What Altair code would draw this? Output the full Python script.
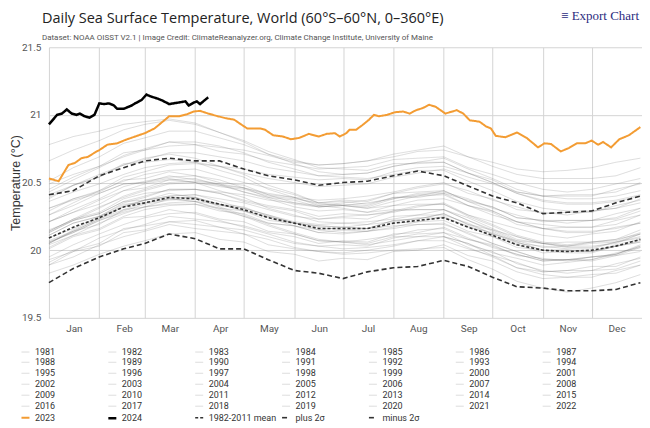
import altair as alt
import pandas as pd

# ---------------- values ----------------
MONTHS = ["Jan", "Feb", "Mar", "Apr", "May", "Jun", "Jul", "Aug", "Sep", "Oct", "Nov", "Dec"]
MONTH_START = [0, 31, 59, 90, 120, 151, 181, 212, 243, 273, 304, 334, 365]
Y_TICKS = [19.5, 20, 20.5, 21, 21.5]

DAYS = [0, 15, 31, 46, 59, 74, 90, 105, 120, 135, 151, 166, 181, 196, 212, 227, 243, 258, 273, 288, 304, 319, 334, 349, 364]
DAYS_1981 = [243, 258, 273, 288, 304, 319, 334, 349, 364]

y1981 = [20.10, 20.05, 19.96, 19.91, 19.84, 19.85, 19.88, 19.88, 19.95]
y1982 = [19.89, 19.95, 20.04, 20.10, 20.14, 20.19, 20.16, 20.14, 20.12, 20.04, 20.01, 19.99, 19.98, 20.00, 20.03, 20.07, 20.10, 20.05, 19.98, 19.94, 19.89, 19.91, 19.93, 19.97, 20.03]
y1983 = [20.05, 20.15, 20.24, 20.33, 20.37, 20.39, 20.39, 20.32, 20.26, 20.19, 20.13, 20.08, 20.06, 20.04, 20.07, 20.10, 20.10, 20.02, 19.95, 19.87, 19.82, 19.80, 19.82, 19.83, 19.89]
y1984 = [19.89, 19.99, 20.03, 20.13, 20.15, 20.21, 20.19, 20.17, 20.12, 20.08, 20.02, 19.99, 19.97, 19.98, 20.00, 20.01, 20.02, 19.93, 19.86, 19.77, 19.72, 19.69, 19.72, 19.76, 19.82]
y1985 = [19.83, 19.89, 19.97, 20.03, 20.07, 20.12, 20.13, 20.08, 20.06, 19.99, 19.97, 19.92, 19.94, 19.93, 19.99, 20.00, 20.04, 19.96, 19.92, 19.84, 19.79, 19.80, 19.80, 19.85, 19.89]
y1986 = [19.91, 20.00, 20.05, 20.16, 20.18, 20.21, 20.22, 20.17, 20.15, 20.10, 20.05, 20.03, 20.04, 20.03, 20.09, 20.12, 20.13, 20.08, 20.03, 19.97, 19.92, 19.93, 19.95, 19.97, 20.04]
y1987 = [20.05, 20.14, 20.23, 20.32, 20.37, 20.40, 20.41, 20.38, 20.35, 20.30, 20.25, 20.23, 20.24, 20.23, 20.29, 20.30, 20.30, 20.24, 20.16, 20.08, 20.05, 20.02, 20.02, 20.06, 20.09]
y1988 = [20.11, 20.20, 20.25, 20.34, 20.35, 20.38, 20.36, 20.30, 20.25, 20.18, 20.12, 20.07, 20.06, 20.05, 20.10, 20.10, 20.13, 20.04, 19.99, 19.90, 19.85, 19.83, 19.85, 19.86, 19.92]
y1989 = [19.93, 19.99, 20.09, 20.15, 20.19, 20.25, 20.23, 20.21, 20.18, 20.13, 20.10, 20.05, 20.07, 20.06, 20.12, 20.13, 20.17, 20.09, 20.02, 19.97, 19.92, 19.93, 19.93, 19.98, 20.02]
y1990 = [20.05, 20.14, 20.19, 20.30, 20.32, 20.38, 20.36, 20.34, 20.29, 20.25, 20.20, 20.18, 20.17, 20.19, 20.21, 20.24, 20.24, 20.18, 20.10, 20.04, 19.98, 19.99, 19.99, 20.04, 20.08]
y1991 = [20.09, 20.16, 20.25, 20.32, 20.37, 20.40, 20.41, 20.36, 20.31, 20.26, 20.20, 20.17, 20.15, 20.16, 20.18, 20.19, 20.20, 20.12, 20.05, 19.99, 19.93, 19.93, 19.92, 19.96, 19.99]
y1992 = [20.01, 20.10, 20.15, 20.24, 20.25, 20.30, 20.27, 20.22, 20.17, 20.12, 20.06, 20.03, 20.01, 20.02, 20.04, 20.07, 20.07, 20.01, 19.96, 19.87, 19.84, 19.85, 19.85, 19.90, 19.94]
y1993 = [19.95, 20.04, 20.12, 20.19, 20.24, 20.27, 20.28, 20.23, 20.21, 20.14, 20.12, 20.07, 20.06, 20.08, 20.11, 20.15, 20.16, 20.08, 20.04, 19.96, 19.94, 19.92, 19.95, 19.97, 20.03]
y1994 = [20.04, 20.11, 20.20, 20.27, 20.32, 20.35, 20.36, 20.31, 20.29, 20.22, 20.20, 20.15, 20.17, 20.16, 20.22, 20.23, 20.27, 20.19, 20.15, 20.07, 20.05, 20.03, 20.06, 20.08, 20.12]
y1995 = [20.13, 20.22, 20.27, 20.36, 20.37, 20.42, 20.39, 20.34, 20.29, 20.24, 20.18, 20.15, 20.13, 20.14, 20.16, 20.19, 20.19, 20.13, 20.05, 19.99, 19.93, 19.93, 19.95, 19.96, 20.02]
y1996 = [20.02, 20.11, 20.16, 20.25, 20.30, 20.33, 20.34, 20.29, 20.27, 20.20, 20.18, 20.13, 20.15, 20.14, 20.20, 20.21, 20.25, 20.17, 20.13, 20.05, 20.03, 20.01, 20.01, 20.06, 20.10]
y1997 = [20.11, 20.20, 20.25, 20.35, 20.39, 20.45, 20.45, 20.43, 20.41, 20.37, 20.35, 20.33, 20.35, 20.37, 20.42, 20.46, 20.49, 20.44, 20.37, 20.32, 20.27, 20.28, 20.28, 20.33, 20.37]
y1998 = [20.38, 20.48, 20.54, 20.64, 20.65, 20.67, 20.65, 20.59, 20.54, 20.45, 20.39, 20.33, 20.31, 20.28, 20.30, 20.30, 20.30, 20.22, 20.14, 20.06, 20.00, 20.00, 19.99, 20.03, 20.06]
y1999 = [20.06, 20.13, 20.22, 20.28, 20.32, 20.34, 20.34, 20.31, 20.25, 20.20, 20.18, 20.13, 20.12, 20.14, 20.17, 20.21, 20.22, 20.14, 20.10, 20.02, 20.00, 19.98, 19.98, 20.03, 20.07]
y2000 = [20.07, 20.14, 20.23, 20.30, 20.35, 20.38, 20.39, 20.34, 20.32, 20.25, 20.20, 20.18, 20.17, 20.16, 20.22, 20.23, 20.27, 20.19, 20.12, 20.07, 20.02, 20.03, 20.03, 20.05, 20.12]
y2001 = [20.14, 20.23, 20.28, 20.38, 20.42, 20.44, 20.45, 20.42, 20.36, 20.32, 20.29, 20.23, 20.25, 20.26, 20.28, 20.32, 20.35, 20.26, 20.21, 20.16, 20.11, 20.09, 20.12, 20.14, 20.21]
y2002 = [20.21, 20.28, 20.37, 20.44, 20.49, 20.52, 20.53, 20.48, 20.46, 20.39, 20.37, 20.32, 20.34, 20.33, 20.39, 20.40, 20.44, 20.36, 20.32, 20.24, 20.22, 20.20, 20.22, 20.23, 20.29]
y2003 = [20.29, 20.38, 20.43, 20.52, 20.53, 20.58, 20.55, 20.52, 20.46, 20.41, 20.35, 20.32, 20.33, 20.31, 20.36, 20.40, 20.41, 20.33, 20.29, 20.21, 20.19, 20.17, 20.17, 20.22, 20.26]
y2004 = [20.26, 20.33, 20.42, 20.49, 20.50, 20.55, 20.52, 20.49, 20.43, 20.38, 20.32, 20.29, 20.30, 20.28, 20.33, 20.37, 20.38, 20.33, 20.26, 20.21, 20.16, 20.17, 20.17, 20.19, 20.26]
y2005 = [20.26, 20.35, 20.44, 20.51, 20.56, 20.59, 20.60, 20.55, 20.50, 20.46, 20.41, 20.35, 20.36, 20.34, 20.39, 20.39, 20.42, 20.33, 20.28, 20.19, 20.16, 20.13, 20.13, 20.17, 20.20]
y2006 = [20.21, 20.28, 20.34, 20.44, 20.46, 20.52, 20.50, 20.48, 20.43, 20.39, 20.34, 20.32, 20.33, 20.32, 20.38, 20.41, 20.42, 20.37, 20.32, 20.24, 20.22, 20.22, 20.22, 20.27, 20.31]
y2007 = [20.31, 20.37, 20.42, 20.49, 20.50, 20.53, 20.50, 20.44, 20.39, 20.31, 20.26, 20.21, 20.20, 20.21, 20.23, 20.26, 20.26, 20.20, 20.12, 20.06, 20.00, 20.00, 19.99, 20.03, 20.06]
y2008 = [20.06, 20.13, 20.22, 20.29, 20.34, 20.37, 20.38, 20.33, 20.31, 20.26, 20.21, 20.19, 20.20, 20.19, 20.25, 20.26, 20.30, 20.22, 20.15, 20.10, 20.05, 20.06, 20.06, 20.08, 20.15]
y2009 = [20.15, 20.22, 20.31, 20.40, 20.45, 20.50, 20.51, 20.49, 20.46, 20.42, 20.39, 20.37, 20.38, 20.40, 20.43, 20.47, 20.50, 20.42, 20.38, 20.30, 20.28, 20.26, 20.29, 20.31, 20.38]
y2010 = [20.39, 20.48, 20.56, 20.63, 20.68, 20.71, 20.68, 20.62, 20.56, 20.48, 20.42, 20.35, 20.33, 20.31, 20.33, 20.34, 20.34, 20.26, 20.19, 20.11, 20.06, 20.04, 20.06, 20.07, 20.13]
y2011 = [20.13, 20.22, 20.27, 20.36, 20.40, 20.45, 20.45, 20.42, 20.37, 20.33, 20.30, 20.25, 20.27, 20.26, 20.29, 20.33, 20.34, 20.25, 20.18, 20.10, 20.05, 20.03, 20.05, 20.06, 20.12]
y2012 = [20.14, 20.23, 20.32, 20.39, 20.44, 20.49, 20.50, 20.47, 20.45, 20.40, 20.38, 20.35, 20.37, 20.36, 20.42, 20.43, 20.44, 20.36, 20.29, 20.21, 20.16, 20.14, 20.14, 20.16, 20.20]
y2013 = [20.21, 20.30, 20.38, 20.47, 20.51, 20.54, 20.55, 20.50, 20.48, 20.41, 20.39, 20.34, 20.33, 20.35, 20.38, 20.42, 20.43, 20.38, 20.31, 20.26, 20.21, 20.22, 20.22, 20.24, 20.31]
y2014 = [20.31, 20.38, 20.44, 20.54, 20.58, 20.63, 20.64, 20.62, 20.60, 20.56, 20.54, 20.52, 20.53, 20.52, 20.58, 20.61, 20.62, 20.57, 20.52, 20.43, 20.40, 20.41, 20.41, 20.43, 20.50]
y2015 = [20.49, 20.56, 20.62, 20.72, 20.74, 20.80, 20.78, 20.76, 20.74, 20.70, 20.65, 20.63, 20.64, 20.66, 20.69, 20.73, 20.74, 20.69, 20.65, 20.60, 20.58, 20.59, 20.61, 20.65, 20.68]
y2016 = [20.78, 20.84, 20.88, 20.93, 20.95, 20.97, 20.94, 20.87, 20.80, 20.71, 20.64, 20.58, 20.56, 20.57, 20.62, 20.65, 20.65, 20.57, 20.50, 20.42, 20.36, 20.34, 20.34, 20.36, 20.40]
y2017 = [20.43, 20.52, 20.61, 20.70, 20.75, 20.80, 20.80, 20.77, 20.72, 20.65, 20.60, 20.55, 20.54, 20.53, 20.56, 20.59, 20.59, 20.51, 20.44, 20.36, 20.31, 20.29, 20.29, 20.31, 20.35]
y2018 = [20.36, 20.43, 20.49, 20.56, 20.61, 20.64, 20.65, 20.62, 20.57, 20.53, 20.50, 20.47, 20.48, 20.49, 20.54, 20.57, 20.60, 20.54, 20.49, 20.43, 20.40, 20.40, 20.40, 20.45, 20.49]
y2019 = [20.51, 20.61, 20.69, 20.79, 20.83, 20.88, 20.88, 20.83, 20.78, 20.71, 20.66, 20.63, 20.64, 20.66, 20.71, 20.74, 20.77, 20.69, 20.62, 20.56, 20.53, 20.53, 20.53, 20.55, 20.61]
y2020 = [20.66, 20.74, 20.81, 20.89, 20.93, 20.96, 20.93, 20.87, 20.81, 20.73, 20.67, 20.61, 20.60, 20.59, 20.64, 20.64, 20.65, 20.57, 20.50, 20.42, 20.37, 20.35, 20.35, 20.37, 20.41]
y2021 = [20.41, 20.48, 20.54, 20.63, 20.67, 20.72, 20.72, 20.69, 20.66, 20.61, 20.58, 20.55, 20.56, 20.57, 20.62, 20.65, 20.68, 20.60, 20.53, 20.45, 20.40, 20.38, 20.38, 20.40, 20.44]
y2022 = [20.45, 20.54, 20.62, 20.69, 20.74, 20.77, 20.78, 20.73, 20.71, 20.66, 20.63, 20.60, 20.61, 20.62, 20.67, 20.68, 20.69, 20.61, 20.56, 20.50, 20.45, 20.43, 20.45, 20.49, 20.53]

mean_1982_2011 = [20.09, 20.17, 20.24, 20.32, 20.35, 20.39, 20.38, 20.34, 20.30, 20.24, 20.20, 20.16, 20.16, 20.16, 20.20, 20.22, 20.24, 20.17, 20.11, 20.04, 20.00, 19.99, 20.00, 20.03, 20.08]
plus_2sigma = [20.41, 20.44, 20.55, 20.61, 20.66, 20.68, 20.66, 20.66, 20.60, 20.55, 20.52, 20.48, 20.50, 20.51, 20.55, 20.585, 20.55, 20.475, 20.40, 20.35, 20.27, 20.28, 20.29, 20.35, 20.40]
minus_2sigma = [19.76, 19.865, 19.95, 20.01, 20.05, 20.12, 20.085, 20.01, 20.01, 19.93, 19.85, 19.83, 19.79, 19.84, 19.87, 19.88, 19.925, 19.88, 19.80, 19.73, 19.72, 19.70, 19.70, 19.71, 19.76]

days_2023 = [0, 6, 9, 12, 16, 20, 24, 28, 31, 36, 42, 47, 53, 59, 65, 70, 74, 80, 85, 89, 93, 98, 104, 109, 114, 117, 122, 130, 133, 138, 144, 149, 154, 160, 166, 171, 176, 179, 183, 185, 189, 193, 197, 200, 203, 208, 213, 218, 222, 226, 230, 234, 238, 244, 251, 255, 259, 265, 269, 272, 275, 281, 288, 294, 298, 301, 305, 309, 315, 320, 325, 330, 334, 338, 341, 346, 351, 357, 364]
temp_2023 = [20.53, 20.51, 20.57, 20.63, 20.645, 20.68, 20.69, 20.72, 20.74, 20.78, 20.79, 20.815, 20.84, 20.865, 20.90, 20.95, 20.99, 20.99, 21.005, 21.025, 21.03, 21.01, 20.99, 20.975, 20.965, 20.94, 20.90, 20.90, 20.89, 20.85, 20.84, 20.82, 20.83, 20.86, 20.84, 20.86, 20.865, 20.84, 20.865, 20.89, 20.89, 20.925, 20.965, 21.0, 20.99, 21.0, 21.02, 21.025, 21.01, 21.035, 21.05, 21.075, 21.06, 21.01, 21.035, 21.01, 20.96, 20.95, 20.915, 20.90, 20.845, 20.835, 20.87, 20.83, 20.79, 20.76, 20.79, 20.785, 20.73, 20.755, 20.79, 20.79, 20.81, 20.78, 20.80, 20.76, 20.82, 20.85, 20.91]

days_2024 = [0, 5, 8, 11, 14, 17, 19, 22, 25, 28, 31, 34, 37, 40, 42, 46, 49, 51, 53, 57, 60, 63, 67, 70, 74, 79, 84, 86, 89, 91, 93, 95, 98]
temp_2024 = [20.93, 21.0, 21.01, 21.04, 21.01, 21.0, 21.01, 20.99, 20.98, 21.0, 21.085, 21.08, 21.085, 21.07, 21.045, 21.045, 21.06, 21.07, 21.085, 21.11, 21.15, 21.135, 21.12, 21.105, 21.08, 21.09, 21.1, 21.07, 21.09, 21.1, 21.08, 21.1, 21.13]

GRAY_YEARS = [y1981, y1982, y1983, y1984, y1985, y1986, y1987, y1988, y1989, y1990,
              y1991, y1992, y1993, y1994, y1995, y1996, y1997, y1998, y1999, y2000,
              y2001, y2002, y2003, y2004, y2005, y2006, y2007, y2008, y2009, y2010,
              y2011, y2012, y2013, y2014, y2015, y2016, y2017, y2018, y2019, y2020,
              y2021, y2022]
GRAY_LABELS = [str(y) for y in range(1981, 2023)]
STAT_LABELS = ["1982-2011 mean", "plus 2σ", "minus 2σ"]

# ---------------- tables ----------------
rows = []
for label, vals in zip(GRAY_LABELS, GRAY_YEARS):
    dd = DAYS_1981 if label == "1981" else DAYS
    for d, v in zip(dd, vals):
        rows.append({"series": label, "day": d, "temp": v})
gray_df = pd.DataFrame(rows)

rows = []
for label, vals in zip(STAT_LABELS, [mean_1982_2011, plus_2sigma, minus_2sigma]):
    for d, v in zip(DAYS, vals):
        rows.append({"series": label, "day": d, "temp": v})
stat_df = pd.DataFrame(rows)

df23 = pd.DataFrame({"series": "2023", "day": days_2023, "temp": temp_2023})
df24 = pd.DataFrame({"series": "2024", "day": days_2024, "temp": temp_2024})

# ---------------- styling ----------------
SMALL = "Roboto"
GRAY = "rgba(110,110,110,0.24)"
ORANGE = "#f39c33"

domain = GRAY_LABELS + ["2023", "2024"] + STAT_LABELS
color_range = [GRAY] * len(GRAY_LABELS) + [ORANGE, "#000000", "#333333", "#333333", "#333333"]
dash_range = [[1, 0]] * (len(GRAY_LABELS) + 2) + [[3, 2], [5, 3], [5, 3]]
width_range = [1] * len(GRAY_LABELS) + [2, 2.5, 1.6, 1.6, 1.6]

month_expr = "[" + ",".join("'%s'" % m for m in MONTHS) + ",''][indexof([" + ",".join(str(v) for v in MONTH_START) + "], datum.value)]"

x_enc = alt.X(
    "day:Q",
    scale=alt.Scale(domain=[0, 365], nice=False, zero=False),
    axis=alt.Axis(values=MONTH_START, labelExpr=month_expr, labelOffset=25, labelFlush=False,
                  grid=True, gridColor="#d4d4d4", ticks=False, domain=False, title=None,
                  labelFont=SMALL, labelFontSize=10, labelColor="#555555", labelPadding=6),
)
y_enc = alt.Y(
    "temp:Q",
    scale=alt.Scale(domain=[19.5, 21.5], nice=False, zero=False),
    axis=alt.Axis(values=Y_TICKS, format="~g", grid=True, gridColor="#d4d4d4", ticks=False,
                  domain=False, title="Temperature (°C)", titleFont="Liberation Sans",
                  titleFontSize=12.5, titleFontWeight="normal", titleColor="#333333", titlePadding=-1,
                  labelFont=SMALL, labelFontSize=10, labelColor="#555555", labelPadding=8),
)
color_enc = alt.Color(
    "series:N", title=None,
    scale=alt.Scale(domain=domain, range=color_range),
    legend=alt.Legend(orient="none", legendX=-29, legendY=300, columns=7, direction="horizontal",
                      symbolType="stroke", symbolSize=64, gridAlign="all", columnPadding=0,
                      rowPadding=0, symbolLimit=100, labelFont=SMALL, labelFontSize=9,
                      labelColor="#333333", labelOffset=4, labelLimit=200),
)
dash_enc = alt.StrokeDash("series:N", title=None, scale=alt.Scale(domain=domain, range=dash_range))
width_enc = alt.StrokeWidth("series:N", title=None, scale=alt.Scale(type="ordinal", domain=domain, range=width_range))


def line_layer(df):
    return alt.Chart(df).mark_line().encode(
        x=x_enc, y=y_enc, color=color_enc, strokeDash=dash_enc, strokeWidth=width_enc,
        detail="series:N",
    )


export_df = pd.DataFrame({"t": ["≡ Export Chart"]})
export_txt = alt.Chart(export_df).mark_text(
    align="right", baseline="middle", font="Liberation Serif", fontSize=13, color="#2b2b80"
).encode(x=alt.value(591), y=alt.value(-31), text="t:N")

chart = alt.layer(
    line_layer(gray_df), line_layer(stat_df), line_layer(df23), line_layer(df24), export_txt
).properties(
    width=594, height=271,
    padding={"left": 41, "top": 39, "right": 0, "bottom": 106},
    autosize=alt.AutoSizeParams(type="none"),
    title=alt.TitleParams(
        text="Daily Sea Surface Temperature, World (60°S–60°N, 0–360°E)",
        subtitle="Dataset: NOAA OISST V2.1 | Image Credit: ClimateReanalyzer.org, Climate Change Institute, University of Maine",
        anchor="start", frame="group", dx=-7, offset=-33,
        font="Open Sans", fontSize=14.5, fontWeight="normal", color="#222222",
        subtitleFont=SMALL, subtitleFontSize=8, subtitleColor="#555555", subtitlePadding=8,
    ),
).configure_view(stroke=None)

chart.save("out.html", embed_options={"renderer": "svg", "actions": False})
